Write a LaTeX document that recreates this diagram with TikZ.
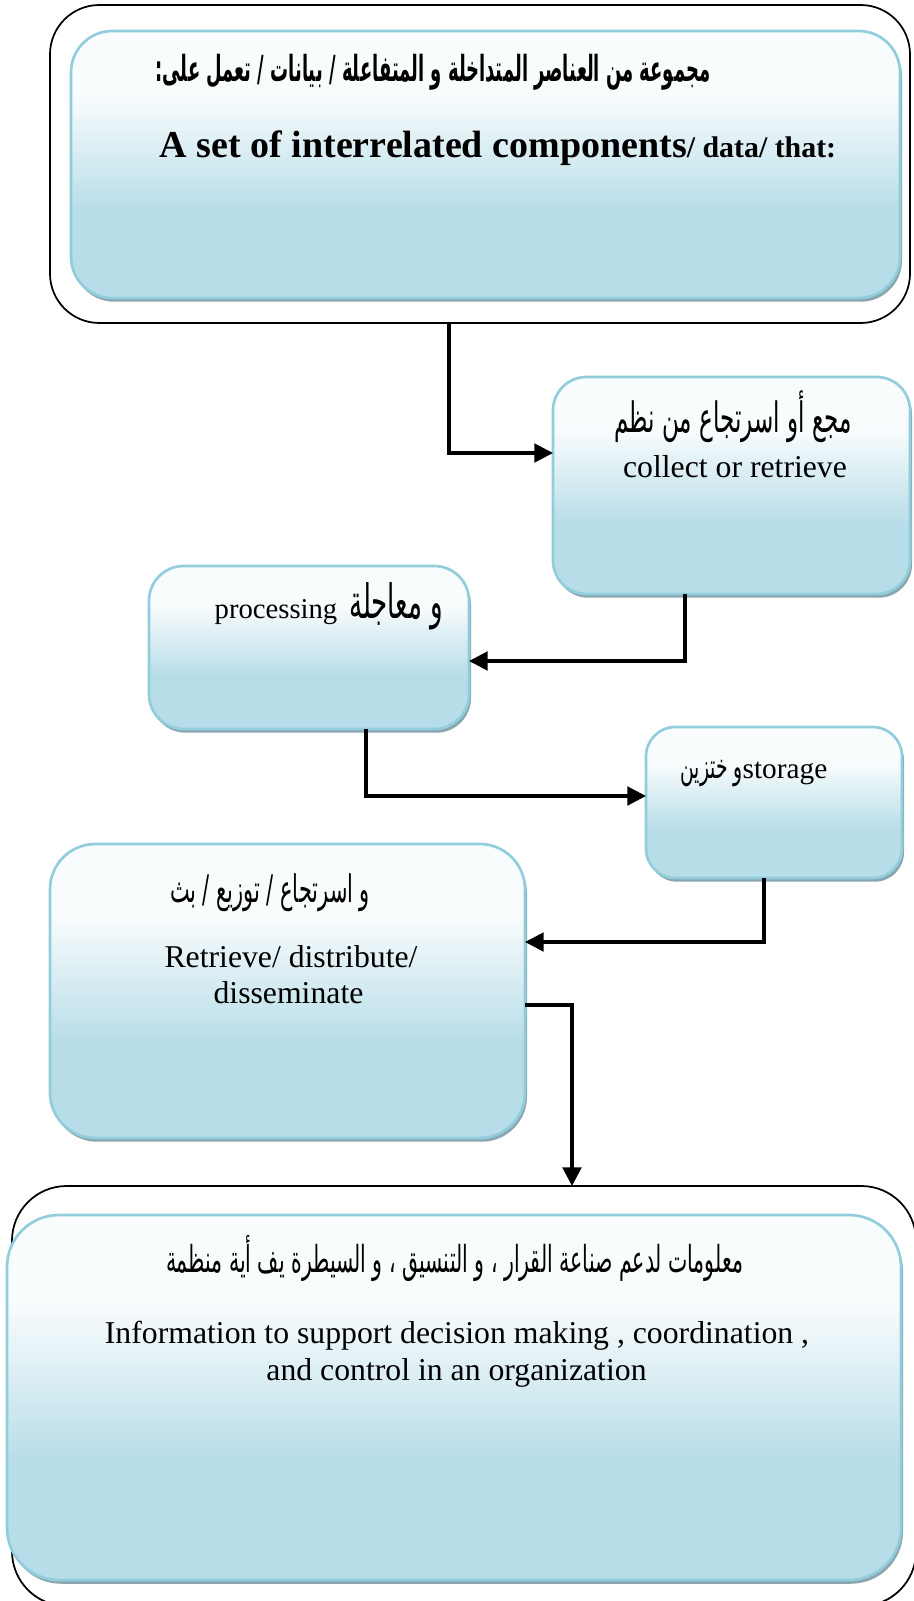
\documentclass[tikz,border=0pt]{standalone}
\usepackage{fontspec}
\setmainfont{Liberation Serif}
\newfontfamily\arabicfont[Script=Arabic, FakeStretch=0.55]{DejaVu Sans}
\newfontfamily\arabicbold[Script=Arabic, FakeStretch=0.5]{DejaVu Sans Bold}
\TeXXeTstate=1
\usetikzlibrary{arrows.meta,shadows}

\definecolor{paneledge}{RGB}{146,205,220}
\definecolor{panelbase}{RGB}{183,221,232}
\definecolor{paneltop}{RGB}{249,252,253}
\definecolor{panelshadow}{RGB}{138,166,176}

% vertical fill of the blue panels: pale at the top, light blue in the lower part
\pgfdeclareverticalshading{panelfill}{100bp}{color(0bp)=(panelbase); color(25bp)=(panelbase); color(41bp)=(panelbase); color(63bp)=(paneltop); color(75bp)=(paneltop); color(100bp)=(paneltop)}

\newcommand\pxl{0.75pt}
\newcommand\fsz[1]{\fontsize{#1pt}{#1pt}\selectfont}

% Arabic run set at the size that gives it the wanted width (in px)
\newsavebox\arbox
\newcommand\arfit[3]{%
  \sbox\arbox{#2\fontsize{10pt}{12pt}\selectfont #3}%
  \pgfmathsetmacro\arsize{7.5*#1/\the\wd\arbox}%
  {#2\fontsize{\arsize pt}{\arsize pt}\selectfont #3}}

\begin{document}
\begin{tikzpicture}[x=0.75pt, y=-0.75pt,
  frame/.style={draw=black, line width=1.3pt, fill=white, inner sep=0pt, outer sep=0pt},
  panel/.style={draw=paneledge, line width=2pt, shade, shading=panelfill,
    inner sep=0pt, outer sep=0pt,
    drop shadow={shadow xshift=1.5pt, shadow yshift=-2.8pt, fill=panelshadow, opacity=1}},
  conn/.style={draw=black, line width=2.3pt, -{Triangle[length=14pt,width=14pt]}},
  lbl/.style={inner sep=0pt, outer sep=0pt, anchor=base, text=black}]

\useasboundingbox (0,0) rectangle (913,1601);

% outer frames
\node[frame, minimum width=860*\pxl, minimum height=318*\pxl, rounded corners=37pt] (frameTop) at (480,164) {};
\node[frame, minimum width=904*\pxl, minimum height=420*\pxl, rounded corners=41pt] (frameBot) at (464,1396) {};

% blue panels
\node[panel, minimum width=829*\pxl, minimum height=267*\pxl, rounded corners=31pt] (panelTop) at (485.5,164.5) {};
\node[panel, minimum width=357*\pxl, minimum height=217*\pxl, rounded corners=25pt] (box2) at (731.5,485.5) {};
\node[panel, minimum width=320*\pxl, minimum height=163*\pxl, rounded corners=26pt] (box3) at (309,647.5) {};
\node[panel, minimum width=256*\pxl, minimum height=151*\pxl, rounded corners=22pt] (box4) at (774,802.5) {};
\node[panel, minimum width=475*\pxl, minimum height=294*\pxl, rounded corners=34pt] (box5) at (287.5,991) {};
\node[panel, minimum width=894*\pxl, minimum height=365*\pxl, rounded corners=39pt] (panelBot) at (454,1397.5) {};

% bends of the connectors
\coordinate (k1) at (449,453);
\coordinate (k2) at (685,661);
\coordinate (k3) at (366,796);
\coordinate (k4) at (764,942);
\coordinate (k5) at (572,1005);

\draw[conn] (frameTop.south -| k1) |- (k1 -| box2.west);
\draw[conn] (box2.south -| k2) |- (k2 -| box3.east);
\draw[conn] (box3.south -| k3) |- (k3 -| box4.west);
\draw[conn] (box4.south -| k4) |- (k4 -| box5.east);
\draw[conn] (box5.east |- k5) -| (frameBot.north -| k5);

% texts
\node[lbl] (tTopAr) at (433,82) {\arfit{555}{\arabicbold}{\beginR مجموعة من العناصر المتداخلة و المتفاعلة / بيانات / تعمل على:\endR}};
\node[lbl] (tTopEn) at (498,158) {\bfseries\fsz{28.5}A set of interrelated components\fsz{22.4}/ data/ that:};

\node[lbl] (tB2Ar) at (733,432) {\arfit{237}{\arabicfont}{\beginR مجع أو اسرتجاع من نظم\endR}};
\node[lbl] (tB2En) at (735,477) {\fsz{23.8}collect or retrieve};

\node[lbl] (tB3) at (329,618) {\fsz{21.5}processing\hspace{9pt}\arfit{94}{\arabicfont}{\beginR و معاجلة\endR}};

\node[lbl] (tB4) at (754,778) {\arfit{62}{\arabicfont}{\beginR و ختزين\endR}\fsz{22}storage};

\node[lbl] (tB5Ar) at (270,902) {\arfit{200}{\arabicfont}{\beginR و اسرتجاع / توزيع / بث\endR}};
\node[lbl] (tB5En1) at (291,967) {\fsz{23.8}Retrieve/ distribute/};
\node[lbl] (tB5En2) at (288.5,1003) {\fsz{23.8}disseminate};

\node[lbl] (tBotAr) at (454.5,1272) {\arfit{577}{\arabicfont}{\beginR معلومات لدعم صناعة القرار ، و التنسيق ، و السيطرة يف أية منظمة\endR}};
\node[lbl] (tBotEn1) at (457,1343) {\fsz{23.8}Information to support decision making , coordination ,};
\node[lbl] (tBotEn2) at (456.5,1380) {\fsz{23.8}and control in an organization};

\end{tikzpicture}
\end{document}
